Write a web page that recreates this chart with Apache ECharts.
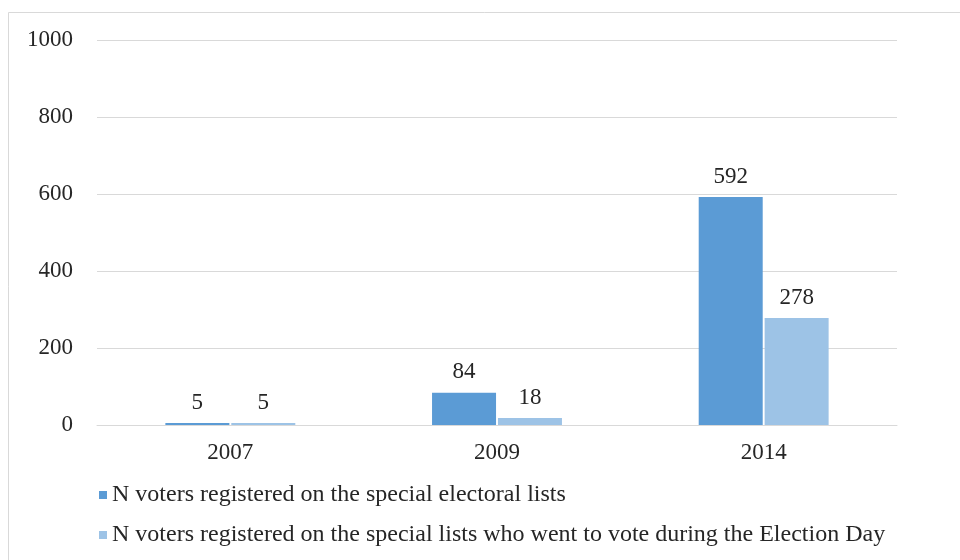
<!DOCTYPE html>
<html>
<head>
<meta charset="utf-8">
<script src="https://cdn.jsdelivr.net/npm/echarts@6/dist/echarts.min.js"></script>
<style>html,body{margin:0;padding:0;background:#fff;}#chart{width:960px;height:560px;}</style>
</head>
<body>
<div id="chart"></div>
<script>
const categories = ['2007', '2009', '2014'];
const registered = [5, 84, 592];
const voted = [5, 18, 278];
const seriesNames = [
  'N voters registered on the special electoral lists',
  'N voters registered on the special lists who went to vote during the Election Day'
];
const yTicks = [0, 200, 400, 600, 800, 1000];

const FONT = '"Liberation Serif", "Times New Roman", serif';
const TXT = '#262626';
const FS = 23;
const chart = echarts.init(document.getElementById('chart'));
chart.setOption({
  animation: false,
  backgroundColor: '#fff',
  graphic: [{
    type: 'rect',
    shape: { x: 8.5, y: 12.5, width: 1000, height: 600 },
    style: { fill: 'none', stroke: '#d9d9d9', lineWidth: 1 },
    silent: true
  }],
  grid: { left: 97, right: 63, top: 40, bottom: 135 },
  xAxis: {
    type: 'category',
    data: categories,
    axisTick: { show: false },
    axisLine: { lineStyle: { color: '#d9d9d9' } },
    axisLabel: { color: TXT, fontFamily: FONT, fontSize: FS, margin: 16 }
  },
  yAxis: {
    type: 'value',
    min: yTicks[0],
    max: yTicks[yTicks.length - 1],
    interval: yTicks[1] - yTicks[0],
    axisLine: { show: false },
    axisTick: { show: false },
    splitLine: { lineStyle: { color: '#d9d9d9' } },
    axisLabel: { color: TXT, fontFamily: FONT, fontSize: FS, margin: 24, formatter: v => String(v) }
  },
  legend: {
    orient: 'vertical',
    left: 94,
    top: 477,
    itemWidth: 8,
    itemHeight: 8,
    itemGap: 14,
    icon: 'rect',
    textStyle: { color: TXT, fontFamily: FONT, fontSize: 24, lineHeight: 26, padding: [0, 0, 0, 0] },
    data: seriesNames
  },
  series: [
    {
      name: seriesNames[0],
      type: 'bar',
      data: registered,
      barWidth: 64,
      barGap: '3%',
      itemStyle: { color: '#5b9bd5' },
      label: { show: true, position: 'top', distance: 9, color: TXT, fontFamily: FONT, fontSize: FS }
    },
    {
      name: seriesNames[1],
      type: 'bar',
      data: voted,
      barWidth: 64,
      barGap: '3%',
      itemStyle: { color: '#9dc3e6' },
      label: { show: true, position: 'top', distance: 9, color: TXT, fontFamily: FONT, fontSize: FS }
    }
  ]
});
</script>
</body>
</html>
